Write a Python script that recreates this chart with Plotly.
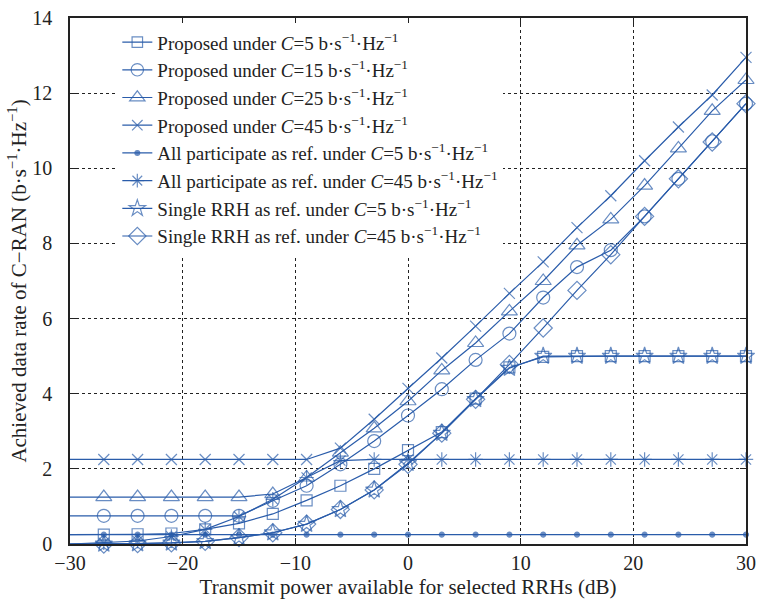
import plotly.graph_objects as go

power_db = [-30, -27, -24, -21, -18, -15, -12, -9, -6, -3, 0, 3, 6, 9, 12, 15, 18, 21, 24, 27, 30]

proposed_c5 = [0.25, 0.25, 0.26, 0.28, 0.39, 0.55, 0.80, 1.16, 1.55, 2.00, 2.50, 2.98, 3.87, 4.70, 4.98, 5.00, 5.00, 5.00, 5.00, 5.00, 5.00]
proposed_c15 = [0.75, 0.75, 0.75, 0.75, 0.75, 0.75, 1.15, 1.55, 2.12, 2.74, 3.42, 4.12, 4.90, 5.60, 6.56, 7.37, 7.82, 8.72, 9.72, 10.72, 11.72]
proposed_c25 = [1.25, 1.25, 1.25, 1.25, 1.25, 1.25, 1.33, 1.77, 2.43, 3.08, 3.80, 4.62, 5.35, 6.19, 7.00, 7.95, 8.64, 9.54, 10.53, 11.53, 12.35]
proposed_c45 = [2.25, 2.25, 2.25, 2.25, 2.25, 2.25, 2.25, 2.25, 2.55, 3.32, 4.14, 4.95, 5.80, 6.67, 7.51, 8.42, 9.27, 10.20, 11.10, 11.95, 12.95]
all_c5 = [0.25] * 21
all_c45 = [0.00, 0.03, 0.08, 0.20, 0.39, 0.73, 1.19, 1.77, 2.22, 2.25, 2.25, 2.25, 2.25, 2.25, 2.25, 2.25, 2.25, 2.25, 2.25, 2.25, 2.25]
single_c5 = [0.00, 0.00, 0.01, 0.03, 0.07, 0.17, 0.30, 0.53, 0.92, 1.44, 2.15, 2.95, 3.85, 4.68, 5.00, 5.00, 5.00, 5.00, 5.00, 5.00, 5.00]
single_c45 = [0.00, 0.00, 0.01, 0.03, 0.07, 0.17, 0.30, 0.53, 0.92, 1.44, 2.12, 2.95, 3.85, 4.78, 5.75, 6.75, 7.70, 8.72, 9.72, 10.70, 11.72]

unit = " b·s<sup>−1</sup>·Hz<sup>−1</sup>"
names = [
    "Proposed under <i>C</i>=5" + unit,
    "Proposed under <i>C</i>=15" + unit,
    "Proposed under <i>C</i>=25" + unit,
    "Proposed under <i>C</i>=45" + unit,
    "All participate as ref. under <i>C</i>=5" + unit,
    "All participate as ref. under <i>C</i>=45" + unit,
    "Single RRH as ref. under <i>C</i>=5" + unit,
    "Single RRH as ref. under <i>C</i>=45" + unit,
]
series = [proposed_c5, proposed_c15, proposed_c25, proposed_c45, all_c5, all_c45, single_c5, single_c45]
symbols = ["square-open", "circle-open", "triangle-up-open", "x-thin-open", "circle",
           "asterisk-open", "star-open", "diamond-open"]
sizes = [11, 13, 14, 11, 5, 12, 13, 14]

color = "#2a5caa"
fig = go.Figure()
for name, ys, sym, sz in zip(names, series, symbols, sizes):
    msize = [0] + [sz] * (len(power_db) - 1)
    fig.add_trace(go.Scatter(
        x=power_db, y=ys, name=name, mode="lines+markers",
        line=dict(color=color, width=1.2),
        marker=dict(symbol=sym, size=msize, color=color, line=dict(color=color, width=1.2)),
        cliponaxis=False,
    ))

font_family = "Liberation Serif, Times New Roman, serif"
fig.update_layout(
    width=763, height=607,
    margin=dict(l=70, r=10, t=7, b=63),
    paper_bgcolor="white", plot_bgcolor="white",
    font=dict(family=font_family, size=20, color="#222"),
    showlegend=True,
    legend=dict(x=0.07, y=0.99, xanchor="left", yanchor="top",
                bgcolor="white", borderwidth=0, tracegroupgap=0,
                font=dict(family=font_family, size=19, color="#222")),
    xaxis=dict(
        range=[-30, 30], tickvals=[-30, -20, -10, 0, 10, 20, 30],
        ticktext=["−30", "−20", "−10", "0", "10", "20", "30"],
        showline=True, mirror="ticks", linecolor="#222", linewidth=1.5,
        ticks="inside", ticklen=6, tickcolor="#222",
        showgrid=True, gridcolor="#222", griddash="dot", gridwidth=1,
        zeroline=False, ticklabelstandoff=0, ticklabeloverflow="allow",
        title=dict(text="Transmit power available for selected RRHs (dB)",
                   font=dict(size=21), standoff=7),
    ),
    yaxis=dict(
        range=[0, 14], tickvals=[0, 2, 4, 6, 8, 10, 12, 14],
        showline=True, mirror="ticks", linecolor="#222", linewidth=1.5,
        ticks="inside", ticklen=6, tickcolor="#222",
        showgrid=True, gridcolor="#222", griddash="dot", gridwidth=1,
        zeroline=False, ticklabelstandoff=12, ticklabeloverflow="allow",
        title=dict(text="Achieved data rate of C−RAN (b·s<sup>−1</sup>·Hz<sup>−1</sup>)",
                   font=dict(size=21), standoff=0),
    ),
)

fig.write_html("out.html", config={"displayModeBar": False},
               post_script="document.body.style.margin='0';")
